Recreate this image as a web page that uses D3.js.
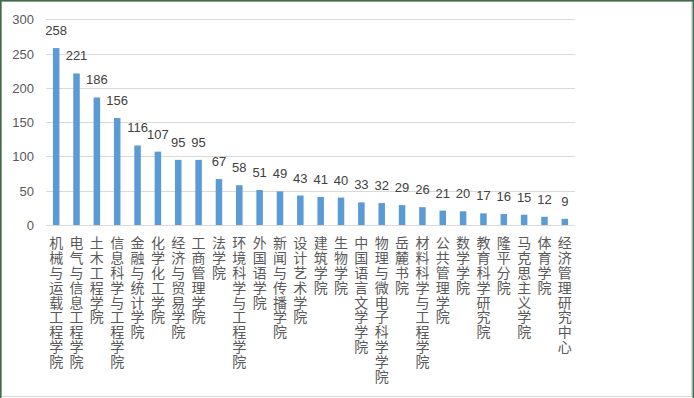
<!DOCTYPE html>
<html><head><meta charset="utf-8">
<script src="https://cdn.jsdelivr.net/npm/d3@7/dist/d3.min.js"></script>
<style>html,body{margin:0;padding:0;background:#fff;overflow:hidden}</style>
</head><body><svg id="c" width="694" height="398"></svg>
<script>
const categories = ["机械与运载工程学院","电气与信息工程学院","土木工程学院","信息科学与工程学院","金融与统计学院","化学化工学院","经济与贸易学院","工商管理学院","法学院","环境科学与工程学院","外国语学院","新闻与传播学院","设计艺术学院","建筑学院","生物学院","中国语言文学学院","物理与微电子科学学院","岳麓书院","材料科学与工程学院","公共管理学院","数学学院","教育科学研究院","隆平分院","马克思主义学院","体育学院","经济管理研究中心"];
const values = [258,221,186,156,116,107,95,95,67,58,51,49,43,41,40,33,32,29,26,21,20,17,16,15,12,9];
const yTicks = [0,50,100,150,200,250,300];

const svg = d3.select("#c");
const W = 694, H = 398;
svg.append("rect").attr("x",0).attr("y",0).attr("width",W).attr("height",H).attr("fill","#fff");
svg.append("rect").attr("x",1.5).attr("y",1.5).attr("width",690).attr("height",395).attr("fill","none").attr("stroke","#d9d9d9");
svg.append("path").attr("d",`M0.75,${H} V0.75 H${W-0.75} V${H}`).attr("fill","none").attr("stroke","#3e6b48").attr("stroke-width",1.5);

const x = d3.scaleBand().domain(categories).range([46,575]).paddingInner(0.68).paddingOuter(0.34);
const y = d3.scaleLinear().domain([0,300]).range([225,19.3]);

const font = "'Liberation Sans', Arial, sans-serif";
svg.append("g").selectAll("line").data(yTicks).join("line")
  .attr("x1",46).attr("x2",575)
  .attr("y1",d=>Math.round(y(d))+0.5).attr("y2",d=>Math.round(y(d))+0.5)
  .attr("stroke","#d9d9d9").attr("stroke-width",1);

const yAxis = d3.axisLeft(y).tickValues(yTicks).tickSize(0).tickPadding(12);
const ya = svg.append("g").attr("transform","translate(46,0)").call(yAxis);
ya.select(".domain").remove();
ya.selectAll("text").attr("fill","#595959").attr("font-size","13px").attr("font-family",font).attr("dy","0.35em");

svg.append("g").selectAll("rect").data(values).join("rect")
  .attr("x",(d,i)=>x(categories[i])).attr("width",x.bandwidth())
  .attr("y",d=>y(d)).attr("height",d=>y(0)-y(d)).attr("fill","#5b9bd5");

svg.append("g").selectAll("text").data(values).join("text")
  .attr("x",(d,i)=>x(categories[i])+x.bandwidth()/2)
  .attr("y",d=>y(d)-13)
  .attr("text-anchor","middle").attr("fill","#404040")
  .attr("font-size","13px").attr("font-family",font)
  .text(d=>d);

svg.append("g").selectAll("text").data(categories).join("text")
  .attr("x",c=>x(c)+x.bandwidth()/2)
  .attr("y",236)
  .attr("writing-mode","vertical-rl")
  .style("text-orientation","upright")
  .attr("letter-spacing","0.8px")
  .attr("fill","#595959").attr("font-size","14px")
  .attr("font-family","'Noto Sans CJK SC', sans-serif")
  .text(c=>c);
</script></body></html>
